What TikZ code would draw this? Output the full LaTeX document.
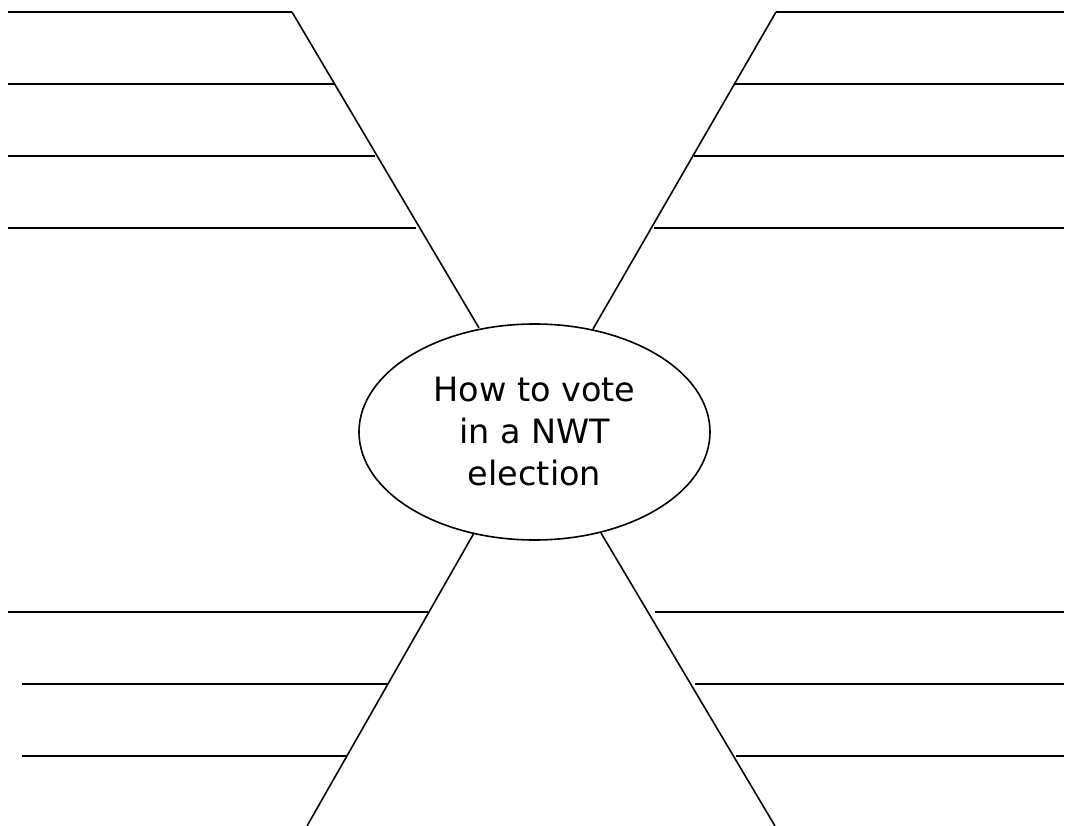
\documentclass[tikz,border=0pt]{standalone}
\usepackage{fontspec}
\setmainfont{DejaVu Sans}
\usetikzlibrary{shapes.geometric}
\begin{document}
\begin{tikzpicture}[x=1pt,y=-1pt,
  ln/.style={line width=1.6pt,black},
  hub/.style={draw,line width=1.6pt,ellipse,minimum width=351pt,minimum height=216pt,inner sep=0pt,
    align=center,font=\fontsize{33.5}{42}\selectfont}]
\useasboundingbox (0,0) rectangle (1065,826);
\node[hub] (c) at (534.5,432) {How to vote\\in a NWT\\election};
% diagonal ends
\coordinate (tla) at (292,12);  \coordinate (tlb) at (479,328);
\coordinate (tra) at (776,12);  \coordinate (trb) at (593,329);
\coordinate (bla) at (474,533); \coordinate (blb) at (307,826);
\coordinate (bra) at (601,533); \coordinate (brb) at (775,826);
\draw[ln] (tla) -- (tlb);
\draw[ln] (tra) -- (trb);
\draw[ln] (bla) -- (blb);
\draw[ln] (bra) -- (brb);
% top-left horizontals
\coordinate (l1) at (8,12);   \draw[ln] (l1) -- (tla);
\coordinate (l2) at (8,84);   \coordinate (l2e) at (334,84);  \draw[ln] (l2) -- (l2e);
\coordinate (l3) at (8,156);  \coordinate (l3e) at (375,156); \draw[ln] (l3) -- (l3e);
\coordinate (l4) at (8,228);  \coordinate (l4e) at (416,228); \draw[ln] (l4) -- (l4e);
% top-right horizontals
\coordinate (r1) at (1064,12);  \draw[ln] (tra) -- (r1);
\coordinate (r2) at (1064,84);  \coordinate (r2s) at (735,84);  \draw[ln] (r2s) -- (r2);
\coordinate (r3) at (1064,156); \coordinate (r3s) at (694,156); \draw[ln] (r3s) -- (r3);
\coordinate (r4) at (1064,228); \coordinate (r4s) at (654,228); \draw[ln] (r4s) -- (r4);
% bottom-left horizontals
\coordinate (m1) at (8,612);  \coordinate (m1e) at (428,612); \draw[ln] (m1) -- (m1e);
\coordinate (m2) at (22,684); \coordinate (m2e) at (388,684); \draw[ln] (m2) -- (m2e);
\coordinate (m3) at (22,756); \coordinate (m3e) at (347,756); \draw[ln] (m3) -- (m3e);
% bottom-right horizontals
\coordinate (n1) at (1064,612); \coordinate (n1s) at (655,612); \draw[ln] (n1s) -- (n1);
\coordinate (n2) at (1064,684); \coordinate (n2s) at (695,684); \draw[ln] (n2s) -- (n2);
\coordinate (n3) at (1064,756); \coordinate (n3s) at (736,756); \draw[ln] (n3s) -- (n3);
\end{tikzpicture}
\end{document}
